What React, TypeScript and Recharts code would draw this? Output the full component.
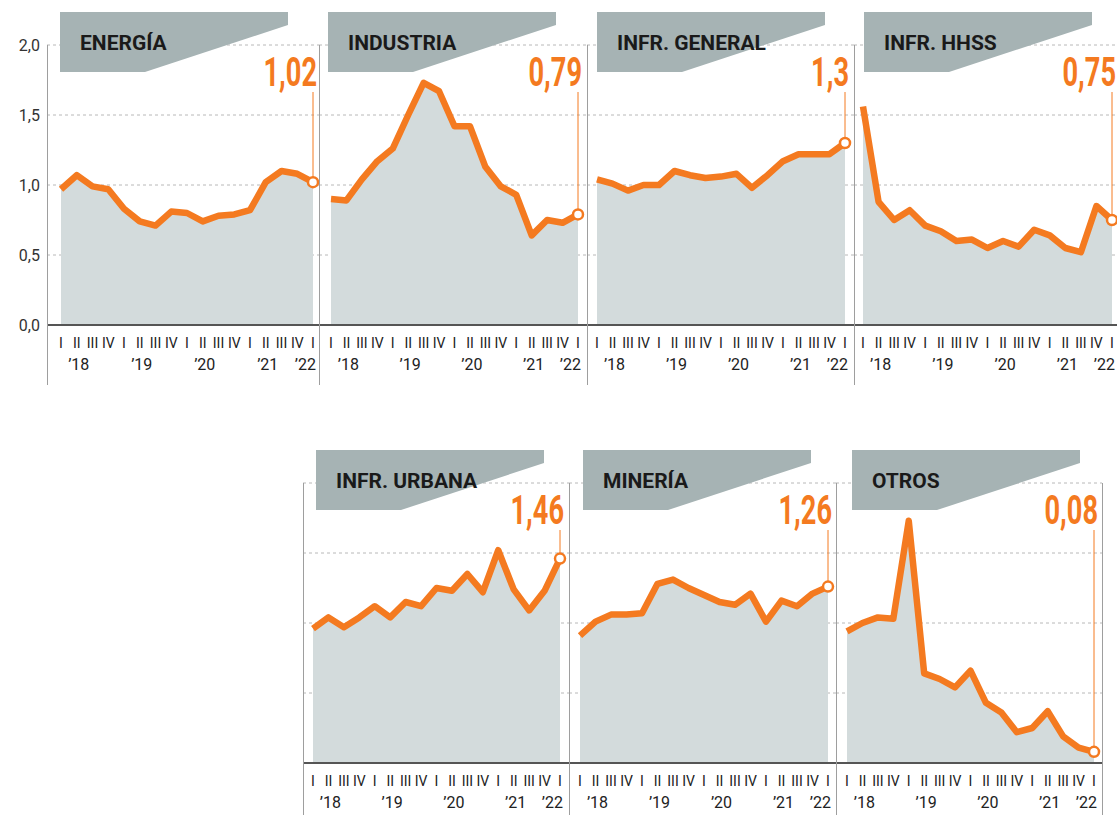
import React from 'react';
import { AreaChart, Area, XAxis, YAxis, CartesianGrid } from 'recharts';

const quarterLabels = ['I', 'II', 'III', 'IV', 'I', 'II', 'III', 'IV', 'I', 'II', 'III', 'IV', 'I', 'II', 'III', 'IV', 'I'];
const yearLabels = ['’18', '’19', '’20', '’21', '’22'];
const yTicks = [0, 0.5, 1, 1.5, 2];
const tickIndex = quarterLabels.map((_, i) => i);

const energia = [0.97, 1.07, 0.99, 0.97, 0.83, 0.74, 0.71, 0.81, 0.8, 0.74, 0.78, 0.79, 0.82, 1.02, 1.1, 1.08, 1.02];
const industria = [0.9, 0.89, 1.04, 1.17, 1.26, 1.5, 1.73, 1.67, 1.42, 1.42, 1.13, 0.99, 0.93, 0.64, 0.75, 0.73, 0.79];
const infrGeneral = [1.04, 1.01, 0.96, 1.0, 1.0, 1.1, 1.07, 1.05, 1.06, 1.08, 0.98, 1.07, 1.17, 1.22, 1.22, 1.22, 1.3];
const infrHhss = [1.56, 0.88, 0.75, 0.82, 0.71, 0.67, 0.6, 0.61, 0.55, 0.6, 0.56, 0.68, 0.64, 0.55, 0.52, 0.85, 0.75];
const infrUrbana = [0.96, 1.04, 0.97, 1.04, 1.12, 1.04, 1.15, 1.12, 1.25, 1.23, 1.35, 1.22, 1.52, 1.24, 1.09, 1.23, 1.46];
const mineria = [0.91, 1.01, 1.06, 1.06, 1.07, 1.28, 1.31, 1.25, 1.2, 1.15, 1.13, 1.21, 1.01, 1.16, 1.12, 1.21, 1.26];
const otros = [0.94, 1.0, 1.04, 1.03, 1.73, 0.64, 0.6, 0.54, 0.66, 0.43, 0.36, 0.22, 0.25, 0.37, 0.19, 0.11, 0.08];

const ORANGE = '#f47a20';
const FILL = '#d3dbdc';
const BANNER = '#a6b3b4';
const GRID = '#b8b8b8';
const SEP = '#9e9e9e';
const FONT = 'Roboto, "Noto Sans", sans-serif';

const ROW2 = 438;

type PanelSpec = {
  title: string;
  values: number[];
  left: number;
  top: number;
  width: number;
  padL: number;
  padR: number;
  yAxis?: boolean;
  bannerX: number;
};

const panels: PanelSpec[] = [
  { title: 'ENERGÍA', values: energia, left: 0, top: 0, width: 319, padL: 14, padR: 6, yAxis: true, bannerX: 60 },
  { title: 'INDUSTRIA', values: industria, left: 319, top: 0, width: 268, padL: 12, padR: 9, bannerX: 328 },
  { title: 'INFR. GENERAL', values: infrGeneral, left: 587, top: 0, width: 267, padL: 10, padR: 9, bannerX: 597 },
  { title: 'INFR. HHSS', values: infrHhss, left: 854, top: 0, width: 263, padL: 9, padR: 5, bannerX: 864 },
  { title: 'INFR. URBANA', values: infrUrbana, left: 303, top: ROW2, width: 266, padL: 10, padR: 9, bannerX: 316 },
  { title: 'MINERÍA', values: mineria, left: 569, top: ROW2, width: 267, padL: 11, padR: 8, bannerX: 583 },
  { title: 'OTROS', values: otros, left: 836, top: ROW2, width: 266, padL: 11, padR: 8, bannerX: 852 },
];

const separators = [
  { x: 47, y1: 45, y2: 385 },
  { x: 319, y1: 45, y2: 385 },
  { x: 587, y1: 45, y2: 385 },
  { x: 854, y1: 45, y2: 385 },
  { x: 303, y1: ROW2 + 45, y2: 815 },
  { x: 569, y1: ROW2 + 45, y2: 815 },
  { x: 836, y1: ROW2 + 45, y2: 815 },
  { x: 1102, y1: ROW2 + 45, y2: 815 },
];

const QuarterTick = (props: any) => {
  const { x, y, payload } = props;
  const i = payload.value as number;
  let year: string | null = null;
  let anchor: 'middle' | 'end' = 'middle';
  let dx = 2;
  if (i === 16) {
    year = yearLabels[4];
    anchor = 'end';
    dx = 3;
  } else if (i % 4 === 1) {
    year = yearLabels[(i - 1) / 4];
  }
  return (
    <g>
      <text x={x} y={y + 23} textAnchor="middle" fontSize={14} fill="#222" fontFamily={FONT}>
        {quarterLabels[i]}
      </text>
      {year && (
        <text x={x + dx} y={y + 45} textAnchor={anchor} fontSize={16} fill="#222" fontFamily={FONT}>
          {year}
        </text>
      )}
    </g>
  );
};

// last point: open circle, thin leader and the big condensed value
const renderDot = (props: any) => {
  const { cx, cy, index, payload } = props;
  if (index !== 16) return <g key={`d${index}`} />;
  const text = String(payload.v).replace('.', ',');
  const baseline = 86;
  return (
    <g key={`d${index}`}>
      <line x1={cx} x2={cx} y1={baseline + 6} y2={cy - 5} stroke={ORANGE} strokeWidth={1} />
      <circle cx={cx} cy={cy} r={5} fill="#fff" stroke={ORANGE} strokeWidth={2.5} />
      <g transform={`translate(${cx + 4},${baseline}) scale(0.68,1)`}>
        <text x={0} y={0} textAnchor="end" fontSize={40} fontWeight={700} fill={ORANGE} fontFamily="Roboto, sans-serif">
          {text}
        </text>
      </g>
    </g>
  );
};

function Panel({ p }: { p: PanelSpec }) {
  const rows = p.values.map((v, i) => ({ i, v }));
  const height = p.top === 0 ? 385 : 377;
  return (
    <div style={{ position: 'absolute', left: p.left, top: p.top, width: p.width, height }}>
      <AreaChart width={p.width} height={height} data={rows} margin={{ top: 45, right: 0, bottom: 0, left: 0 }}>
        <CartesianGrid horizontal vertical={false} stroke={GRID} strokeDasharray="3 3" />
        <XAxis
          dataKey="i"
          type="number"
          domain={[0, 16]}
          ticks={tickIndex}
          interval={0}
          tickLine={false}
          tickSize={0}
          tickMargin={0}
          axisLine={{ stroke: '#555', strokeWidth: 2 }}
          padding={{ left: p.padL, right: p.padR }}
          tick={<QuarterTick />}
          height={height - 325}
        />
        <YAxis
          type="number"
          domain={[0, 2]}
          ticks={yTicks}
          hide={!p.yAxis}
          width={47}
          axisLine={false}
          tickLine={false}
          tickSize={0}
          tickMargin={7}
          tickFormatter={(v: number) => v.toFixed(1).replace('.', ',')}
          tick={{ fontSize: 16, fill: '#333', fontFamily: FONT }}
        />
        <Area
          type="linear"
          dataKey="v"
          stroke={ORANGE}
          strokeWidth={6.5}
          strokeLinejoin="round"
          fill={FILL}
          fillOpacity={1}
          isAnimationActive={false}
          dot={renderDot}
          activeDot={false}
        />
      </AreaChart>
    </div>
  );
}

export default function App() {
  return (
    <div style={{ position: 'absolute', left: 0, top: 0, width: 1117, height: 815, overflow: 'hidden', background: '#fff' }}>
      {panels.map((p) => (
        <Panel key={p.title} p={p} />
      ))}
      <svg width={1117} height={815} style={{ position: 'absolute', left: 0, top: 0, pointerEvents: 'none' }}>
        {separators.map((s, k) => (
          <line key={k} x1={s.x + 0.5} x2={s.x + 0.5} y1={s.y1} y2={s.y2} stroke={SEP} strokeWidth={1} />
        ))}
        {panels.map((p) => {
          const L = p.bannerX;
          const t = p.top;
          return (
            <g key={p.title}>
              <polygon
                points={`${L},${12 + t} ${L + 228},${12 + t} ${L + 228},${25 + t} ${L + 85},${72 + t} ${L},${72 + t}`}
                fill={BANNER}
              />
              <text x={L + 20} y={50 + t} fontSize={21} fontWeight={700} fill="#1a1a1a" fontFamily={FONT}>
                {p.title}
              </text>
            </g>
          );
        })}
      </svg>
    </div>
  );
}
